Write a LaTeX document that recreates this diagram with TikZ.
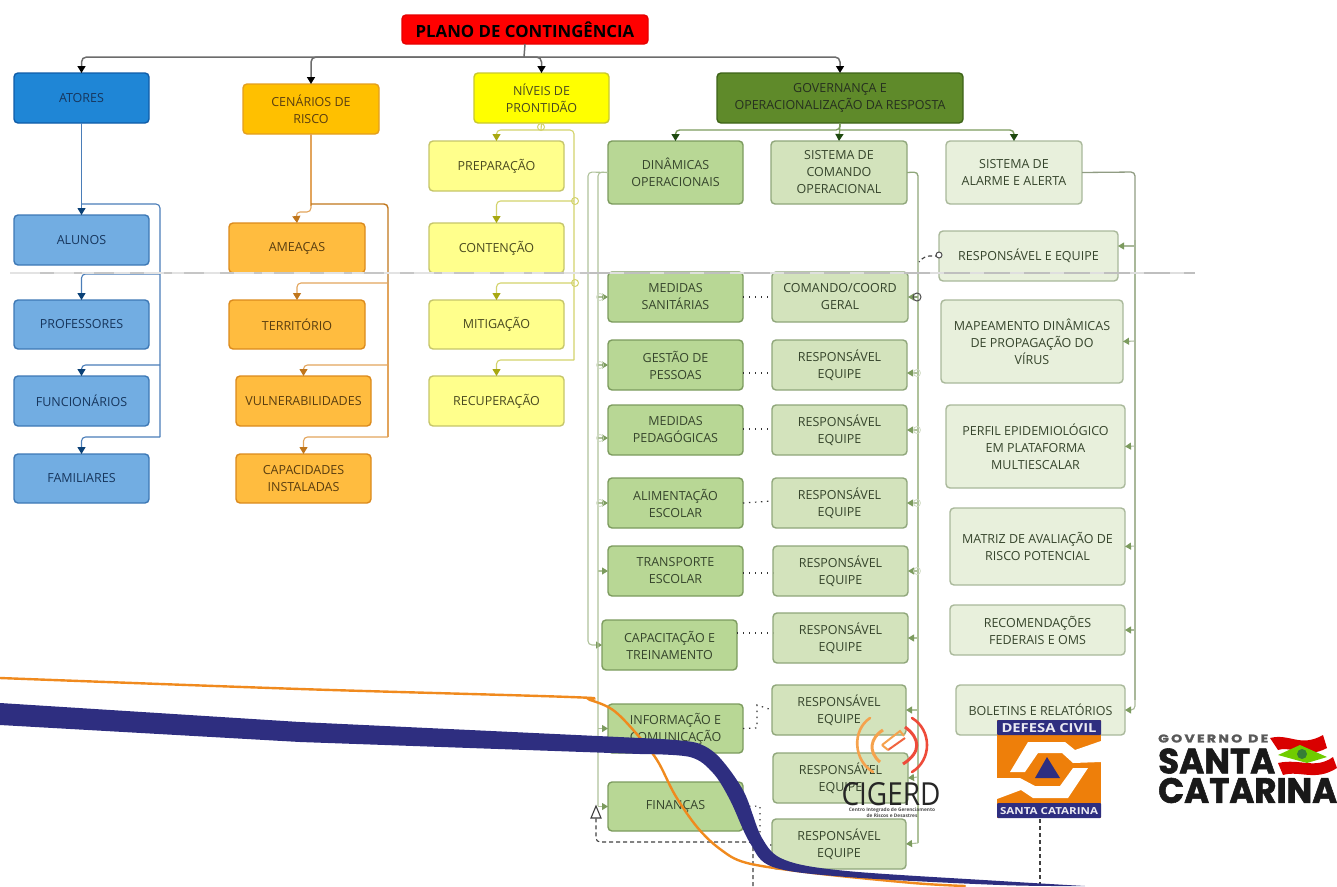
\documentclass[tikz,border=0pt]{standalone}
\usepackage{fontspec}
\setmainfont{Open Sans}
\newfontfamily\popf[BoldFeatures={FakeBold=1.6}]{Poppins}
\usetikzlibrary{arrows.meta,calc}
\definecolor{cBlueA}{HTML}{1F86D6}\definecolor{cBlueAb}{HTML}{0F5CA8}
\definecolor{cBlueB}{HTML}{72ADE2}\definecolor{cBlueBb}{HTML}{3D78B5}
\definecolor{cBlueT}{HTML}{17365D}\definecolor{cBlueL}{HTML}{4A7DB8}
\definecolor{cOrA}{HTML}{FFC000}\definecolor{cOrAb}{HTML}{E39E1E}
\definecolor{cOrB}{HTML}{FFBC3F}\definecolor{cOrBb}{HTML}{DB8A1C}
\definecolor{cOrT}{HTML}{5A3E10}\definecolor{cOrL}{HTML}{E2A45C}\definecolor{cOrD}{HTML}{C0761C}
\definecolor{cYeA}{HTML}{FFFF00}\definecolor{cYeAb}{HTML}{C8C82E}
\definecolor{cYeB}{HTML}{FFFF8C}\definecolor{cYeBb}{HTML}{C5C56A}
\definecolor{cYeT}{HTML}{4A4A20}\definecolor{cYeL}{HTML}{D3D36C}\definecolor{cYeD}{HTML}{A8A812}
\definecolor{cGrA}{HTML}{5F8A2A}\definecolor{cGrAb}{HTML}{3D6318}
\definecolor{cGrB}{HTML}{B8D795}\definecolor{cGrBb}{HTML}{7C9B5E}
\definecolor{cGrC}{HTML}{D3E3BC}\definecolor{cGrCb}{HTML}{8FA67A}
\definecolor{cGrD}{HTML}{E8F0DC}\definecolor{cGrDb}{HTML}{A9B89A}
\definecolor{cGrT}{HTML}{36452C}\definecolor{cGrL}{HTML}{AFC29B}\definecolor{cGrH}{HTML}{1F4A10}
\definecolor{cNavy}{HTML}{2E2E80}\definecolor{cOrange}{HTML}{F08A1E}
\definecolor{cDef}{HTML}{EE7F0A}\definecolor{cRedL}{HTML}{EE4B3A}\definecolor{cOrL2}{HTML}{F5A24D}
\tikzset{
  boxbase/.style={rounded corners=4pt,line width=1.4pt,inner sep=0pt,outer sep=0pt,align=center,font=\fontsize{12.5}{17}\selectfont},
  sPlano/.style={boxbase,fill=red,draw=red!90!black,font=\fontsize{16.8}{17}\selectfont\bfseries,text=black},
  sBlueA/.style={boxbase,fill=cBlueA,draw=cBlueAb,text=cBlueT},
  sBlueB/.style={boxbase,fill=cBlueB,draw=cBlueBb,text=cBlueT},
  sOrA/.style={boxbase,fill=cOrA,draw=cOrAb,text=cOrT},
  sOrB/.style={boxbase,fill=cOrB,draw=cOrBb,text=cOrT},
  sYeA/.style={boxbase,fill=cYeA,draw=cYeAb,text=cYeT},
  sYeB/.style={boxbase,fill=cYeB,draw=cYeBb,text=cYeT},
  sGrA/.style={boxbase,fill=cGrA,draw=cGrAb,text=cGrT!70!black},
  sGrB/.style={boxbase,fill=cGrB,draw=cGrBb,text=cGrT},
  sGrC/.style={boxbase,fill=cGrC,draw=cGrCb,text=cGrT},
  sGrD/.style={boxbase,fill=cGrD,draw=cGrDb,text=cGrT},
  lnBlue/.style={cBlueL,line width=1.1pt,rounded corners=4pt,-{Triangle[length=7pt,width=8pt,color=cBlueAb!70!black]}},
  lnBlueP/.style={cBlueL,line width=1.1pt,rounded corners=4pt},
  lnOr/.style={cOrL,line width=1.1pt,rounded corners=4pt,-{Triangle[length=7pt,width=8pt,color=cOrD]}},
  lnOrP/.style={cOrL,line width=1.1pt,rounded corners=4pt},
  lnYe/.style={cYeL,line width=1.1pt,rounded corners=4pt,-{Triangle[length=7pt,width=8pt,color=cYeD]}},
  lnYeP/.style={cYeL,line width=1.1pt,rounded corners=4pt},
  lnTop/.style={gray!85!black,line width=1.5pt,rounded corners=5pt,-{Triangle[length=7pt,width=8pt,color=black]}},
  lnTopP/.style={gray!85!black,line width=1.5pt,rounded corners=5pt},
  lnGov/.style={cGrBb,line width=1.4pt,rounded corners=4pt,-{Triangle[length=7pt,width=8pt,color=cGrH]}},
  lnGr/.style={cGrL,line width=1.1pt,rounded corners=4pt,-{Triangle[length=6pt,width=7pt,color=cGrBb]}},
  lnGrP/.style={cGrL,line width=1.1pt,rounded corners=4pt},
  lnGrD/.style={cGrDb!85!black,line width=1.3pt,rounded corners=4pt},
  dotln/.style={gray!40!black,line width=1.2pt,dash pattern=on 1.4pt off 4.6pt},
  dashln/.style={gray!50!black,line width=1.1pt,dash pattern=on 4pt off 3pt,rounded corners=4pt},
  ringY/.style={cYeL,line width=1pt},
  ringG/.style={cGrL!60,line width=.8pt},
}
\newcommand{\bx}[7]{%
  \pgfmathsetmacro{\bxw}{#4-#2}\pgfmathsetmacro{\bxh}{#5-#3}%
  \node[#6,minimum width=\bxw pt,minimum height=\bxh pt] (#1) at ({(#2+#4)/2},{(#3+#5)/2}) {#7};}
\begin{document}
\begin{tikzpicture}[x=1pt,y=-1pt]
\useasboundingbox (0,0) rectangle (1337,886);
% boxes
\bx{plano}{402}{15}{648}{44}{sPlano}{PLANO DE CONTINGÊNCIA}
\bx{atores}{14}{73}{149}{123}{sBlueA}{ATORES}
\bx{cenarios}{243}{84}{379}{134}{sOrA}{CENÁRIOS DE\\RISCO}
\bx{niveis}{474}{73}{609}{123}{sYeA}{NÍVEIS DE\\PRONTIDÃO}
\bx{gov}{717}{73}{963}{123}{sGrA}{GOVERNANÇA E\\OPERACIONALIZAÇÃO DA RESPOSTA}
\bx{alunos}{14}{215}{149}{265}{sBlueB}{ALUNOS}
\bx{prof}{14}{300}{149}{349}{sBlueB}{PROFESSORES}
\bx{func}{14}{376}{149}{426}{sBlueB}{FUNCIONÁRIOS}
\bx{fam}{14}{454}{149}{503}{sBlueB}{FAMILIARES}
\bx{ameacas}{229}{223}{365}{273}{sOrB}{AMEAÇAS}
\bx{terr}{229}{300}{365}{349}{sOrB}{TERRITÓRIO}
\bx{vuln}{236}{376}{371}{426}{sOrB}{VULNERABILIDADES}
\bx{capi}{236}{454}{371}{503}{sOrB}{CAPACIDADES\\INSTALADAS}
\bx{prep}{429}{141}{564}{191}{sYeB}{PREPARAÇÃO}
\bx{cont}{429}{223}{564}{273}{sYeB}{CONTENÇÃO}
\bx{miti}{429}{300}{564}{349}{sYeB}{MITIGAÇÃO}
\bx{recu}{429}{376}{564}{426}{sYeB}{RECUPERAÇÃO}
\bx{dina}{608}{141}{743}{204}{sGrB}{DINÂMICAS\\OPERACIONAIS}
\bx{sist}{771}{141}{907}{204}{sGrC}{SISTEMA DE\\COMANDO\\OPERACIONAL}
\bx{alar}{946}{141}{1082}{204}{sGrD}{SISTEMA DE\\ALARME E ALERTA}
\bx{msan}{608}{272}{743}{322}{sGrB}{MEDIDAS\\SANITÁRIAS}
\bx{coord}{772}{272}{908}{322}{sGrC}{COMANDO/COORD\\GERAL}
\bx{gest}{608}{340}{743}{390}{sGrB}{GESTÃO DE\\PESSOAS}
\bx{rb}{772}{340}{907}{390}{sGrC}{RESPONSÁVEL\\EQUIPE}
\bx{mped}{608}{405}{743}{455}{sGrB}{MEDIDAS\\PEDAGÓGICAS}
\bx{rc}{772}{405}{907}{455}{sGrC}{RESPONSÁVEL\\EQUIPE}
\bx{alim}{608}{478}{743}{528}{sGrB}{ALIMENTAÇÃO\\ESCOLAR}
\bx{rd}{772}{478}{907}{528}{sGrC}{RESPONSÁVEL\\EQUIPE}
\bx{tran}{608}{546}{743}{596}{sGrB}{TRANSPORTE\\ESCOLAR}
\bx{re}{773}{546}{908}{596}{sGrC}{RESPONSÁVEL\\EQUIPE}
\bx{capa}{602}{620}{737}{670}{sGrB}{CAPACITAÇÃO E\\TREINAMENTO}
\bx{rf}{773}{613}{908}{663}{sGrC}{RESPONSÁVEL\\EQUIPE}
\bx{info}{608}{704}{743}{753}{sGrB}{INFORMAÇÃO E\\COMUNICAÇÃO}
\bx{rg}{772}{685}{906}{735}{sGrC}{RESPONSÁVEL\\EQUIPE}
\bx{fina}{608}{782}{743}{831}{sGrB}{FINANÇAS}
\bx{rh}{773}{753}{908}{803}{sGrC}{RESPONSÁVEL\\EQUIPE}
\bx{ri}{772}{819}{906}{869}{sGrC}{RESPONSÁVEL\\EQUIPE}
\bx{resp}{939}{231}{1118}{281}{sGrD}{RESPONSÁVEL E EQUIPE}
\bx{mapa}{941}{300}{1123}{383}{sGrD}{MAPEAMENTO DINÂMICAS\\DE PROPAGAÇÃO DO\\VÍRUS}
\bx{perf}{946}{405}{1125}{488}{sGrD}{PERFIL EPIDEMIOLÓGICO\\EM PLATAFORMA\\MULTIESCALAR}
\bx{matr}{950}{508}{1125}{585}{sGrD}{MATRIZ DE AVALIAÇÃO DE\\RISCO POTENCIAL}
\bx{reco}{950}{605}{1125}{655}{sGrD}{RECOMENDAÇÕES\\FEDERAIS E OMS}
\bx{bole}{956}{685}{1125}{735}{sGrD}{BOLETINS E RELATÓRIOS}
% trunk points
\coordinate (tA) at (524,57);
\coordinate (tB) at (160,204);
\coordinate (tC) at (388,204);
\coordinate (tD) at (574,130);
\coordinate (tE) at (840,130);
\coordinate (tF) at (588,172);
\coordinate (tG) at (598,172);
\coordinate (tH) at (918,172);
\coordinate (tI) at (1135,172);
% top
\draw[lnTopP] (plano.south) -- (tA);
\draw[lnTop] (tA) -| (atores.north);
\draw[lnTop] (tA) -| (cenarios.north);
\draw[lnTop] (tA) -| (niveis.north);
\draw[lnTop] (tA) -| (gov.north);
% atores
\draw[lnBlue] (atores.south) -- (alunos.north);
\draw[lnBlueP] (atores.south |- tB) -- (tB) -- (160,437);
\draw[lnBlue] (160,274) -| (prof.north);
\draw[lnBlue] (160,365) -| (func.north);
\draw[lnBlue] (160,437) -| (fam.north);
% cenarios
\draw[lnOrP] (cenarios.south) -- (311,206);
\draw[lnOr] (311,204) |- (296,212) -- (ameacas.north);
\draw[cOrD,line width=1.4pt,rounded corners=4pt] (311,204) -- (tC) -- (388,285);
\draw[lnOrP] (388,285) -- (388,437);
\draw[lnOr] (388,283) -| (terr.north);
\draw[lnOr] (388,365) -| (vuln.north);
\draw[lnOr] (388,437) -| (capi.north);
% niveis
\draw[lnYeP] (niveis.south) -- (541,130);
\draw[lnYe] (541,130) -| (prep.north);
\draw[lnYeP] (541,130) -- (tD) -- (574,360);
\draw[lnYe] (574,201) -| (cont.north);
\draw[lnYe] (574,283) -| (miti.north);
\draw[lnYe] (574,360) -| (recu.north);
\draw[ringY] (541,127) circle (3.5);
\draw[ringY] (575,201) circle (3.5);
\draw[ringY] (575,283) circle (3.5);
% governance
\draw[lnGov] (gov.south) |- (dina.north |- tE) -- (dina.north);
\draw[lnGov] (gov.south) -- (sist.north);
\draw[lnGov] (tE) -| (alar.north);
% dinamicas
\draw[lnGr] (dina.west) -- (tF) |- (capa.west);
\draw[lnGrP] (dina.west) -- (tG) -- (598,806);
\draw[lnGr] (tG |- msan.west) -- (msan.west);
\draw[lnGr] (tG |- gest.west) -- (gest.west);
\draw[lnGr] (598,438) -- ([yshift=-8pt]mped.west);
\draw[lnGr] (tG |- alim.west) -- (alim.west);
\draw[lnGr] (tG |- tran.west) -- (tran.west);
\draw[lnGr] (tG |- info.west) -- (info.west);
\draw[lnGr] (tG |- fina.west) -- (fina.west);
\foreach \yy in {297,365,438,503}{\draw[ringG] (600,\yy) circle (3.5);}
% sistema
\draw[cGrCb,line width=1.3pt,rounded corners=4pt] (sist.east) -- (tH) -- (918,300);
\draw[lnGrP] (918,300) -- (918,843);
\draw[lnGr,cGrCb] (tH |- coord.east) -- (coord.east);
\draw[lnGr] (918,373) -- ([yshift=-8pt]rb.east);
\draw[lnGr] (918,430) -- (rc.east);
\draw[lnGr] (918,503) -- (rd.east);
\draw[lnGr] (918,571) -- (re.east);
\draw[lnGr] (918,638) -- (rf.east);
\draw[lnGr] (918,710) -- (rg.east);
\draw[lnGr] (918,777) -- (rh.east);
\draw[lnGr] (918,843) -- (ri.east);
\foreach \yy in {373,430,503,571}{\draw[ringG] (917,\yy) circle (3.5);}
\draw[gray!60!black,line width=1pt] (917,297) circle (4);
% alarme
\draw[lnGrD] (alar.east) -- (tI) -- (1135,240);
\draw[lnGrP,cGrDb] (1135,240) -- (1135,700);
\draw[lnGr,cGrDb] (1135,246) -- ([yshift=10pt]resp.east);
\draw[lnGr,cGrDb] (1135,341) -- (mapa.east);
\draw[lnGr,cGrDb] (1135,446) -- (perf.east);
\draw[lnGr,cGrDb] (1135,546) -- (matr.east);
\draw[lnGr,cGrDb] (1135,630) -- (reco.east);
\draw[lnGr,cGrDb,rounded corners=4pt] (1135,700) |- (bole.east);
% dotted
\draw[dotln] (msan.east) -- (coord.west);
\draw[dotln] (gest.east) ++(0,8) -- ([yshift=-8pt]rb.west);
\draw[dotln] ([yshift=1pt]mped.east) -- ([yshift=1pt]rc.west);
\draw[dotln] (alim.east) -- ([yshift=2pt]rd.west);
\draw[dotln] ([yshift=-2pt]tran.east) -- ([yshift=-2pt]re.west);
\draw[dotln] ([yshift=12pt]capa.east) -- ([yshift=5pt]rf.west);
\draw[dotln] (info.east) -- (757,728) -- (757,705) -- (rg.west);
\draw[dotln] (fina.east) -- (760,806) -- (760,845) -- ([yshift=-1pt]ri.west);
% dashed
\coordinate (dashA) at (753,842);
\coordinate (dashB) at (596,842);
\coordinate (dashC) at (753,886);
\coordinate (dashD) at (1040,819);
\coordinate (dashE) at (1040,886);
\draw[dashln] (dashC) -- (dashA) -- (dashB) -- (596,818);
\draw[gray!50!black,line width=1.1pt,fill=white] (596,806) -- (591,818) -- (601,818) -- cycle;
\draw[dashln] (dashD) -- (dashE);
\draw[dashln] (resp.west) -- ++(-14,0) -- (919,262);
\draw[gray!60!black,line width=1pt,fill=white] (939,255) circle (3);
% grey band
\draw[gray!22,line width=2.8pt] (10,273) -- (590,273);
\draw[gray!45,line width=2.8pt,dash pattern=on 14pt off 20pt on 8pt off 12pt on 20pt off 16pt] (40,273) -- (590,273);
\draw[gray!50,line width=2.8pt] (590,273) -- (1195,273);
\draw[gray!25,line width=2.8pt,dash pattern=on 14pt off 26pt] (610,273) -- (1195,273);
% sweeping lines
\draw[cOrange,line width=2.4pt,line cap=round] plot[smooth,tension=.55] coordinates {(0,678) (300,689) (570,697) (590,700) (613,710) (635,732) (657,760) (675,795) (697,827) (720,849) (747,863) (813,873) (913,883) (965,886)};
\fill[cNavy] (0,703) -- (300,722) -- (640,738) -- plot[smooth,tension=.55] coordinates {(640,738) (675,740) (700,744) (720,758) (744,792) (762,838) (785,860) (847,871) (1000,881) (1085,886)} -- plot[smooth,tension=.55] coordinates {(1085,886) (1000,885) (847,877) (773,867) (750,843) (730,800) (713,773) (690,757) (640,754)} -- (300,742) -- (0,725) -- cycle;
% Defesa Civil logo
\fill[cDef] (997,720) rectangle (1101,818);
\fill[cNavy,rounded corners=1pt] (997,720) rectangle (1101,735);
\fill[cNavy,rounded corners=1pt] (997,803) rectangle (1101,818);
\fill[white] (1010,772) -- (1028,742) -- (1065,742) -- (1075,750) -- (1101,741) -- (1101,762) -- (1073,763) -- (1062,753) -- (1038,753) -- (1025,772) -- cycle;
\fill[white] (997,778) -- (1020,778) -- (1035,786) -- (1060,786) -- (1073,768) -- (1088,768) -- (1068,798) -- (1033,798) -- (1021,790) -- (997,799) -- cycle;
\fill[cNavy] (1047,757) -- (1035,778) -- (1060,778) -- cycle;
\node[text=white!90!cNavy,font=\bfseries,inner sep=0pt] (dcA) at (1049,728) {\resizebox{95pt}{9pt}{DEFESA CIVIL}};
\node[text=white!90!cNavy,font=\bfseries,inner sep=0pt] (dcB) at (1049,811) {\resizebox{98pt}{7pt}{SANTA CATARINA}};
% CIGERD logo
\draw[cOrL2,line width=2.6pt,line cap=round] (870,718) .. controls (852,730) and (853,760) .. (873,772);
\draw[cOrL2,line width=3pt] (883,730) .. controls (870,738) and (868,752) .. (880,762);
\draw[cRedL,line width=2.6pt,line cap=round] (912,718) .. controls (932,730) and (932,760) .. (912,772);
\draw[cRedL,line width=3pt] (905,727) .. controls (920,738) and (922,752) .. (903,764);
\draw[cOrL2,line width=2pt] (882,745) -- (900,731) -- (904,736);
\draw[cRedL!70!cOrL2,line width=2pt] (888,750) -- (905,738);
\draw[cOrL2,line width=2pt] (882,745) -- (888,750);
\node[text=black!85,inner sep=0pt] (cg) at (891,794) {\resizebox{99pt}{23pt}{CIGERD}};
\node[text=black!70,font=\fontsize{4.8}{6}\selectfont\bfseries,inner sep=0pt,align=center] (cgs) at (892,813) {Centro Integrado de Gerenciamento\\de Riscos e Desastres};
% Santa Catarina logo
\node[anchor=west,inner sep=0pt,text=black!65,font=\popf\bfseries] (gd) at (1158,738.5) {\resizebox{110pt}{8pt}{G\,O\,V\,E\,R\,N\,O\ \ D\,E}};
\node[anchor=west,inner sep=0pt,text=black!90,font=\popf\bfseries] (gs) at (1158,761) {\resizebox{117pt}{25pt}{SANTA}};
\node[anchor=west,inner sep=0pt,text=black!90,font=\popf\bfseries] (gc) at (1158,790.5) {\resizebox{179pt}{25pt}{CATARINA}};
\fill[red!85!black] (1270,738) .. controls (1290,733) and (1300,748) .. (1323,735) -- (1327,748) .. controls (1305,760) and (1290,745) .. (1278,750) -- cycle;
\fill[red!85!black] (1278,763) .. controls (1300,758) and (1315,770) .. (1333,757) -- (1337,768) .. controls (1315,782) and (1300,770) .. (1283,775) -- cycle;
\fill[green!45!yellow!80!black] (1278,755) -- (1300,745) -- (1327,757) -- (1307,763) -- cycle;
\fill[gray!60!green!70!black] (1302,754) circle (5);
\end{tikzpicture}
\end{document}
